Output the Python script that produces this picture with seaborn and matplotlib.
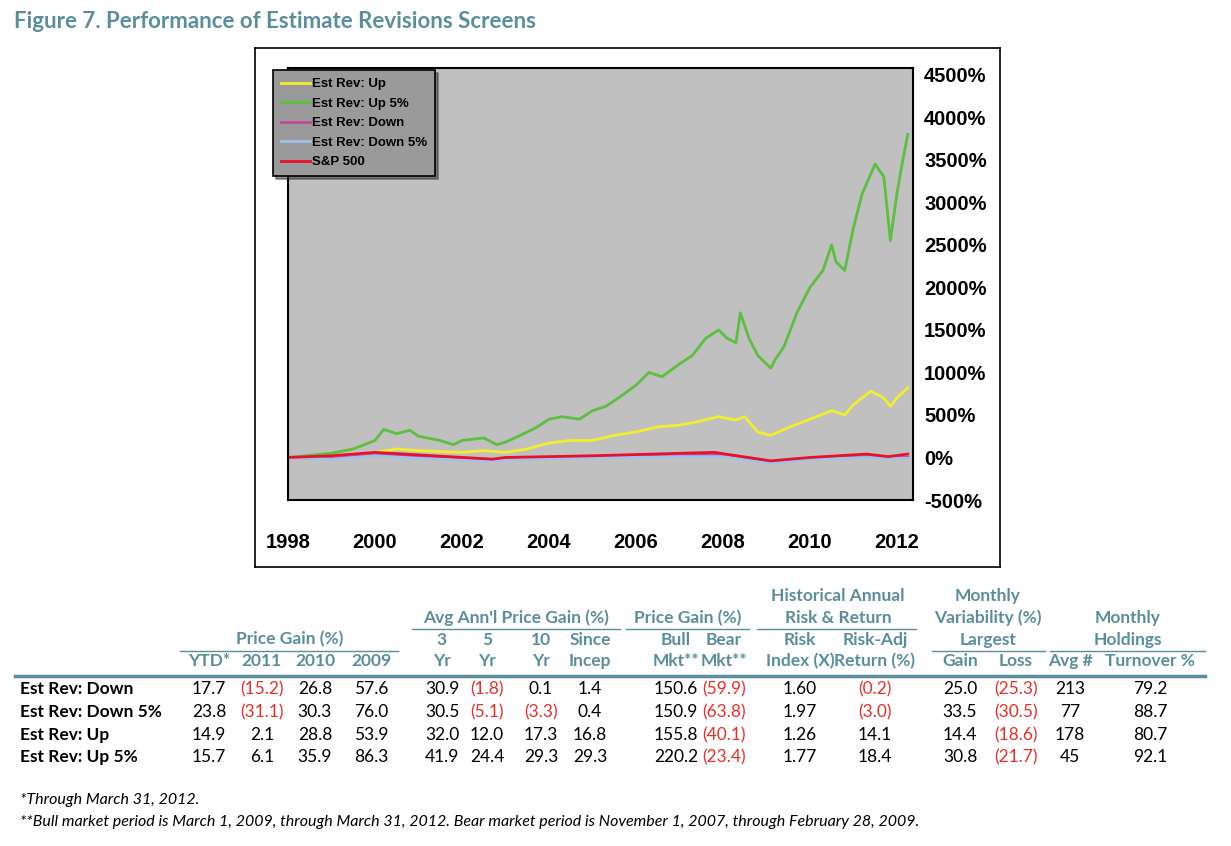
import matplotlib
matplotlib.use("Agg")
import matplotlib.pyplot as plt
import seaborn as sns
import pandas as pd
from matplotlib.lines import Line2D

# ---------------- data ----------------
up5_x = [1998.0,1999.0,1999.5,2000.0,2000.2,2000.5,2000.8,2001.0,2001.5,2001.8,2002.0,2002.5,2002.8,2003.0,2003.3,2003.7,
         2004.0,2004.3,2004.7,2005.0,2005.3,2005.6,2006.0,2006.3,2006.6,2007.0,2007.3,2007.6,2007.9,2008.1,2008.3,2008.4,
         2008.6,2008.8,2009.1,2009.2,2009.4,2009.7,2010.0,2010.3,2010.5,2010.6,2010.8,2011.0,2011.2,2011.5,2011.7,2011.85,
         2012.0,2012.1,2012.25]
up5_y = [0,50,100,200,330,280,320,250,200,150,200,230,150,180,250,350,450,480,450,550,600,700,850,1000,950,1100,1200,
         1400,1500,1400,1350,1700,1400,1200,1050,1150,1300,1700,2000,2200,2500,2300,2200,2700,3100,3450,3300,2550,3100,
         3400,3800]
up_x = [1998.0,1999.0,2000.0,2000.5,2001.0,2002.0,2002.5,2003.0,2003.5,2004.0,2004.5,2005.0,2005.5,2006.0,2006.5,2007.0,
        2007.5,2007.9,2008.3,2008.5,2008.8,2009.1,2009.5,2010.0,2010.5,2010.8,2011.0,2011.4,2011.7,2011.85,2012.0,2012.25]
up_y = [0,20,60,100,80,60,80,60,100,170,200,200,260,300,360,380,430,480,440,480,300,260,350,450,550,500,620,780,700,
        600,700,820]
down_x = [1998.0,1999.0,2000.0,2001.0,2002.5,2004.0,2007.0,2008.0,2009.1,2010.0,2011.3,2012.25]
down_y = [0,-10,30,10,-30,0,20,30,-60,-10,10,0]
down5_x = [1998.0,1999.0,2000.0,2001.0,2002.5,2004.0,2007.0,2008.0,2009.1,2010.0,2011.3,2012.25]
down5_y = [0,-20,20,-10,-40,-10,10,10,-70,-20,0,-10]
sp_x = [1998.0,1999.0,2000.0,2001.0,2002.7,2003.0,2005.0,2007.8,2009.1,2010.0,2011.3,2011.8,2012.25]
sp_y = [0,20,60,30,-20,0,20,60,-40,0,40,10,40]

series_names = ["Est Rev: Up", "Est Rev: Up 5%", "Est Rev: Down", "Est Rev: Down 5%", "S&P 500"]
series_colors = ["#f2ee2e", "#5cbf3e", "#c4479c", "#9ec3ea", "#e8102a"]
yticks = [-500, 0, 500, 1000, 1500, 2000, 2500, 3000, 3500, 4000, 4500]
xticks = [1998, 2000, 2002, 2004, 2006, 2008, 2010, 2012]

row_labels = ["Est Rev: Down", "Est Rev: Down 5%", "Est Rev: Up", "Est Rev: Up 5%"]
table_rows = [
    ["17.7","(15.2)","26.8","57.6","30.9","(1.8)","0.1","1.4","150.6","(59.9)","1.60","(0.2)","25.0","(25.3)","213","79.2"],
    ["23.8","(31.1)","30.3","76.0","30.5","(5.1)","(3.3)","0.4","150.9","(63.8)","1.97","(3.0)","33.5","(30.5)","77","88.7"],
    ["14.9","2.1","28.8","53.9","32.0","12.0","17.3","16.8","155.8","(40.1)","1.26","14.1","14.4","(18.6)","178","80.7"],
    ["15.7","6.1","35.9","86.3","41.9","24.4","29.3","29.3","220.2","(23.4)","1.77","18.4","30.8","(21.7)","45","92.1"],
]
sub1 = ["","","","","3","5","10","Since","Bull","Bear","Risk","Risk-Adj","","","",""]
sub2 = ["YTD*","2011","2010","2009","Yr","Yr","Yr","Incep","Mkt**","Mkt**","Index (X)","Return (%)","Gain","Loss","Avg #","Turnover %"]

frames = []
for n, xs, ys in zip(series_names, [up_x, up5_x, down_x, down5_x, sp_x], [up_y, up5_y, down_y, down5_y, sp_y]):
    frames.append(pd.DataFrame({"year": xs, "pct": ys, "series": n}))
df = pd.concat(frames)

W, H = 1231, 846
fig = plt.figure(figsize=(W/100, H/100), dpi=100)
def fx(x): return x / W
def fy(y): return 1 - y / H

teal = "#5b8e9c"
TF = "Lato"
fig.text(fx(14), fy(22), "Figure 7. Performance of Estimate Revisions Screens", color=teal,
         fontsize=16, fontweight="bold", va="center", ha="left", family=TF)

# chart frame (background axes)
bg = fig.add_axes([fx(255), fy(567), fx(745), 519/H], zorder=0)
bg.set_xticks([]); bg.set_yticks([])
bg.set_facecolor("white")
for s in bg.spines.values():
    s.set_linewidth(1.2); s.set_color("black")

ax = fig.add_axes([fx(288), fy(500), fx(625), 432/H], zorder=1)
ax.set_facecolor("#c0c0c0")
sns.lineplot(data=df, x="year", y="pct", hue="series", hue_order=series_names,
             palette=dict(zip(series_names, series_colors)), ax=ax, lw=2, legend=False, sort=False)
ax.set_xlim(1998, 2012.37)
ax.set_ylim(-480, 4580)
ax.yaxis.tick_right()
ax.set_yticks(yticks)
ax.set_yticklabels([f"{v}%" for v in yticks], fontsize=14.5, fontweight="bold", family="Liberation Sans")
ax.set_xticks(xticks)
ax.set_xticklabels([str(v) for v in xticks], fontsize=14.5, fontweight="bold", family="Liberation Sans")
ax.tick_params(axis="x", length=0, pad=24)
ax.tick_params(axis="y", length=0, pad=8)
ax.set_xlabel(""); ax.set_ylabel("")
for s in ax.spines.values():
    s.set_linewidth(1.5); s.set_color("black")
ax.grid(False)

handles = [Line2D([0], [0], color=c, lw=2) for c in series_colors]
leg = ax.legend(handles, series_names, loc="upper left", bbox_to_anchor=(-0.035, 1.01),
                prop={"family": "Liberation Sans", "weight": "bold", "size": 9.5},
                facecolor="#9a9a9a", edgecolor="black", framealpha=1, fancybox=False, shadow=True,
                handlelength=2.2, handletextpad=0.2, labelspacing=0.55, borderpad=0.6)
leg.get_frame().set_linewidth(1.2)

# ---------------- table ----------------
cols = [209, 262, 315, 371, 442, 487, 541, 590, 676, 724, 800, 875, 960, 1016, 1070, 1150]
FS = 12.5
hfont = dict(color=teal, fontsize=FS, fontweight="bold", family=TF, ha="center", va="center")
for cx, t in zip(cols, sub2):
    fig.text(fx(cx), fy(661), t, **hfont)
for cx, t in zip(cols, sub1):
    if t:
        fig.text(fx(cx), fy(640), t, **hfont)
fig.text(fx(290), fy(639), "Price Gain (%)", **hfont)
fig.text(fx(516), fy(618), "Avg Ann'l Price Gain (%)", **hfont)
fig.text(fx(688), fy(618), "Price Gain (%)", **hfont)
fig.text(fx(838), fy(596), "Historical Annual", **hfont)
fig.text(fx(838), fy(618), "Risk & Return", **hfont)
fig.text(fx(988), fy(596), "Monthly", **hfont)
fig.text(fx(988), fy(618), "Variability (%)", **hfont)
fig.text(fx(988), fy(640), "Largest", **hfont)
fig.text(fx(1128), fy(618), "Monthly", **hfont)
fig.text(fx(1128), fy(640), "Holdings", **hfont)

def hline(x0, x1, y, lw=1.0):
    fig.add_artist(Line2D([fx(x0), fx(x1)], [fy(y), fy(y)], transform=fig.transFigure, color=teal, lw=lw))
hline(180, 398, 651)
hline(412, 620, 629)
hline(626, 749, 629)
hline(757, 916, 629)
hline(932, 1045, 651)
hline(1050, 1205, 651)
hline(15, 1205, 676, lw=2.5)

rows_y = [689, 712, 735, 757]
for ry, lab, vals in zip(rows_y, row_labels, table_rows):
    fig.text(fx(20), fy(ry), lab, fontsize=FS, fontweight="bold", family=TF, ha="left", va="center")
    for cx, v in zip(cols, vals):
        fig.text(fx(cx), fy(ry), v, fontsize=FS, family=TF, ha="center", va="center",
                 color="#e8302a" if v.startswith("(") else "black")

fig.text(fx(20), fy(800), "*Through March 31, 2012.", fontsize=11.5, style="italic", family=TF, va="center")
fig.text(fx(20), fy(822), "**Bull market period is March 1, 2009, through March 31, 2012. Bear market period is November 1, 2007, through February 28, 2009.",
         fontsize=11.5, style="italic", family=TF, va="center")

fig.savefig("out.png", dpi=100)
